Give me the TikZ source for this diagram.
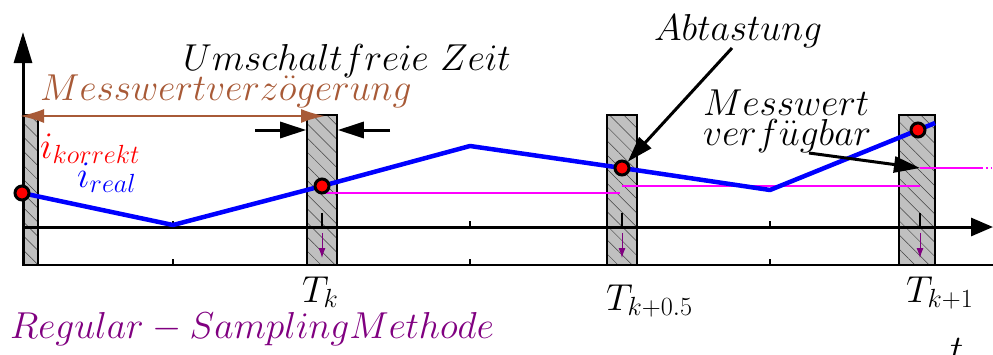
\documentclass[tikz,border=0pt]{standalone}
\usepackage{fix-cm}
\usetikzlibrary{arrows.meta,patterns.meta}
\definecolor{brn}{RGB}{168,90,55}
\definecolor{purp}{RGB}{128,0,128}
\definecolor{barg}{RGB}{192,192,192}
\definecolor{mag}{RGB}{255,0,255}
\begin{document}
\begin{tikzpicture}[x=1pt,y=-1pt,
  bar/.style={draw=black,line width=1.6pt,minimum height=150pt,inner sep=0pt,
    preaction={fill=barg},pattern={Lines[angle=-45,distance=10pt,line width=0.5pt]},pattern color=black!75},
  dot/.style={circle,fill=red,draw=black,line width=3pt,minimum size=14pt,inner sep=0pt},
  lab/.style={font=\fontsize{37.5}{44}\selectfont,inner sep=0pt,anchor=base west},
  bigarrow/.style={line width=3pt,-{Triangle[length=26pt,width=16pt]}},
  magline/.style={mag,line width=1.6pt},
  sampletick/.style={purp,line width=1pt,-{Latex[length=10pt,width=7pt]}}
]
\useasboundingbox (0,0) rectangle (993,354);
% bars
\node[bar,minimum width=15pt] (b0) at (30.5,190) {};
\node[bar,minimum width=30pt] (bk) at (322,190) {};
\node[bar,minimum width=30pt] (bk5) at (622,190) {};
\node[bar,minimum width=36pt] (bk1) at (917,190) {};
% axes
\coordinate (o) at (23,265);
\coordinate (ytop) at (23,32);
\coordinate (t0) at (23,227);
\coordinate (tend) at (993,227);
\coordinate (bend) at (993,265);
\draw[line width=1.6pt] (o) -- (bend);
\draw[line width=3pt,-{Triangle[length=22pt,width=18pt]}] (t0) -- (tend);
\draw[line width=3pt,-{Triangle[length=31pt,width=18pt]}] (o) -- (ytop);
% ticks
\foreach \x in {173,470,770}{
  \draw[line width=1.2pt] (\x,221) -- (\x,227);
  \draw[line width=1.2pt] (\x,259) -- (\x,265);
}
\foreach \x/\n in {322/a,622/b,920/c}{
  \draw[line width=1.2pt] (\x,213) -- (\x,227);
  \coordinate (s\n) at (\x,233);
  \coordinate (e\n) at (\x,258);
  \draw[sampletick] (s\n) -- (e\n);
}
% magenta hold lines
\coordinate (m1a) at (322,193); \coordinate (m1b) at (620,193);
\coordinate (m2a) at (622,186); \coordinate (m2b) at (920,186);
\coordinate (m3a) at (920,168); \coordinate (m3b) at (977,168);
\coordinate (m3c) at (993,168);
\draw[magline] (m1a) -- (m1b);
\draw[magline] (m2a) -- (m2b);
\draw[magline] (m3a) -- (m3b);
\draw[magline,dash pattern=on 6pt off 3pt on 1.5pt off 3pt on 1.5pt off 3pt] (m3b) -- (m3c);
% real current
\coordinate (v1) at (173,225);
\coordinate (p1) at (470,146);
\coordinate (v2) at (770,190);
\coordinate (ce) at (935,123);
\coordinate (d0c) at (22,193);
\coordinate (d1c) at (322,186);
\coordinate (d2c) at (622,168);
\coordinate (d3c) at (918,130);
\draw[blue,line width=4.5pt,line join=round] (d0c) -- (v1) -- (d1c) -- (p1) -- (d2c) -- (v2) -- (d3c) -- (ce);
\node[dot] (d0) at (d0c) {};
\node[dot] (d1) at (d1c) {};
\node[dot] (d2) at (d2c) {};
\node[dot] (d3) at (d3c) {};
% delay arrow
\coordinate (bl) at (20,116);
\coordinate (br) at (325,116);
\draw[brn,line width=2pt,{Latex[length=24pt,width=14pt]}-{Latex[length=24pt,width=14pt]}] (bl) -- (br);
% switch-free time arrows
\coordinate (ua) at (255,130);
\coordinate (ub) at (390,130);
\draw[bigarrow] (ua) -- (ua -| bk.west);
\draw[bigarrow] (ub) -- (ub -| bk.east);
% labels
\node[lab] (umz) at (183,70) {$Umschaltfreie\ Zeit$};
\node[lab,text=brn] (mwv) at (40,100) {$Messwertverz\ddot{o}gerung$};
\node[lab,text=red] (ik) at (40,158) {$i_{korrekt}$};
\node[lab,text=blue] (ir) at (77,187) {$i_{real}$};
\node[lab] (abt) at (654,40) {$Abtastung$};
\node[lab] (mw1) at (703,115) {$Messwert$};
\node[lab] (mw2) at (703,145) {$verf\ddot{u}gbar$};
\node[lab] (tk) at (302,302) {$T_k$};
\node[lab] (tk5) at (606,310) {$T_{k+0.5}$};
\node[lab] (tk1) at (906,302) {$T_{k+1}$};
\node[lab] (tt) at (950,361) {$t$};
\node[lab,text=purp] (reg) at (10,338) {$Regular-SamplingMethode$};
% annotation arrows
\coordinate (abtS) at (732,48);
\coordinate (mwS) at (809,153);
\draw[bigarrow] (abtS) -- (d2);
\draw[bigarrow] (mwS) -- (m3a);
\end{tikzpicture}
\end{document}
